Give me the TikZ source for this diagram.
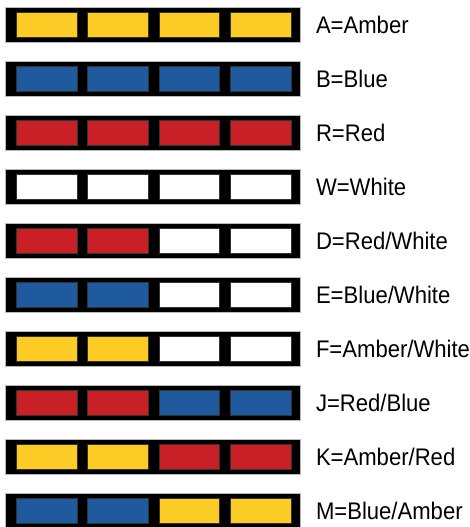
\documentclass[tikz,border=0pt]{standalone}
\usepackage{fontspec}
\setmainfont{Liberation Sans}[FakeStretch=0.92]
\usetikzlibrary{positioning}
\definecolor{ambercolor}{HTML}{FCCB26}
\definecolor{bluecolor}{HTML}{1F5A9E}
\definecolor{redcolor}{HTML}{C82026}
\definecolor{whitecolor}{HTML}{FFFFFF}

\begin{document}
\begin{tikzpicture}[
    x=1pt, y=-1pt,
    bar/.style={
        rectangle,
        draw=gray!55,
        fill=black,
        line width=0.8pt,
        minimum width=295pt,
        minimum height=35pt,
        inner sep=0pt
    },
    lamp/.style={
        rectangle,
        draw=gray!40!black,
        line width=0.4pt,
        minimum width=60.5pt,
        minimum height=24.5pt,
        inner sep=0pt
    },
    codelabel/.style={anchor=west, inner sep=0pt, font=\fontsize{24}{26}\selectfont}
]

\useasboundingbox (0,0) rectangle (470,527);

% --- ROWS: code / name / first pair / second pair ---
\foreach \code/\name/\first/\second [count=\i from 0] in {
    A/Amber/ambercolor/ambercolor,
    B/Blue/bluecolor/bluecolor,
    R/Red/redcolor/redcolor,
    W/White/whitecolor/whitecolor,
    D/{Red/White}/redcolor/whitecolor,
    E/{Blue/White}/bluecolor/whitecolor,
    F/{Amber/White}/ambercolor/whitecolor,
    J/{Red/Blue}/redcolor/bluecolor,
    K/{Amber/Red}/ambercolor/redcolor,
    M/{Blue/Amber}/bluecolor/ambercolor} {

    % Black housing
    \node[bar, anchor=north west] (bar-\code) at (5, {7+54*\i}) {};

    % Four lamps
    \node[lamp, fill=\first, anchor=west] (lamp-\code-1) at ([xshift=11pt]bar-\code.west) {};
    \node[lamp, fill=\first, right=10.5pt of lamp-\code-1] (lamp-\code-2) {};
    \node[lamp, fill=\second, right=10.5pt of lamp-\code-2] (lamp-\code-3) {};
    \node[lamp, fill=\second, right=10.5pt of lamp-\code-3] (lamp-\code-4) {};

    % Legend text
    \node[codelabel, right=15pt of bar-\code] (label-\code) {\code=\name};
}

\end{tikzpicture}
\end{document}
